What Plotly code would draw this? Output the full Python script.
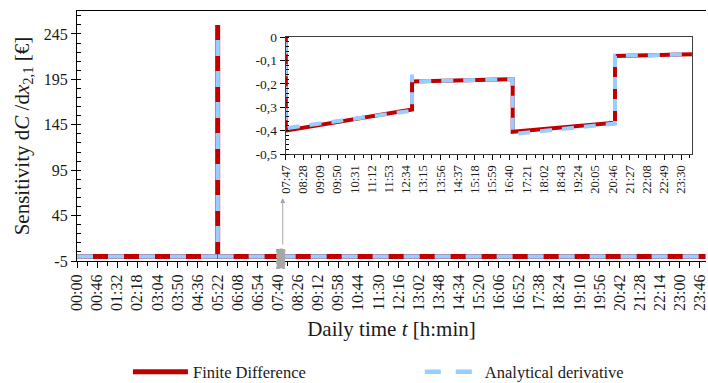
import plotly.graph_objects as go

# ---- data (time in minutes of the day) ----
fd_time = [0, 322, 322, None, 322, 467, 467, 768, 768, 1008, 1008, 1252, 1252, 1439]
fd_value = [0, 0, 255, None, 0, 0, -0.40, -0.31, -0.19, -0.18, -0.405, -0.366, -0.081, -0.074]

an_time = [0, 322, 322, None, 322, 467, 467, 768, 768, 768, 1008, 1008, 1252, 1252, 1439]
an_value = [0, 0, 255, None, 0, 0, -0.39, -0.315, -0.16, -0.19, -0.18, -0.415, -0.37, -0.08, -0.074]

main_tick_labels = ["00:00", "00:46", "01:32", "02:18", "03:04", "03:50", "04:36", "05:22",
                    "06:08", "06:54", "07:40", "08:26", "09:12", "09:58", "10:44", "11:30",
                    "12:16", "13:02", "13:48", "14:34", "15:20", "16:06", "16:52", "17:38",
                    "18:24", "19:10", "19:56", "20:42", "21:28", "22:14", "23:00", "23:46"]
inset_tick_labels = ["07:47", "08:28", "09:09", "09:50", "10:31", "11:12", "11:53", "12:34",
                     "13:15", "13:56", "14:37", "15:18", "15:59", "16:40", "17:21", "18:02",
                     "18:43", "19:24", "20:05", "20:46", "21:27", "22:08", "22:49", "23:30"]
main_y_ticks = [-5, 45, 95, 145, 195, 245]
main_y_labels = ["-5", "45", "95", "145", "195", "245"]
inset_y_ticks = [0, -0.1, -0.2, -0.3, -0.4, -0.5]
inset_y_labels = ["0", "-0,1", "-0,2", "-0,3", "-0,4", "-0,5"]
zoom_start = "07:47"


def to_min(s):
    h, m = s.split(":")
    return int(h) * 60 + int(m)


RED = "#C00000"
BLUE = "#99CCFF"
FONT = "Liberation Serif"
TXT = "#1a1a1a"

fig = go.Figure()
# main
fig.add_trace(go.Scatter(x=fd_time, y=fd_value, mode="lines", name="Finite Difference",
                         line=dict(color=RED, width=5), xaxis="x", yaxis="y", legend="legend"))
fig.add_trace(go.Scatter(x=an_time, y=an_value, mode="lines", name="Analytical derivative",
                         line=dict(color=BLUE, width=4.5, dash="16px,15px"), xaxis="x", yaxis="y",
                         legend="legend2"))
# inset
fig.add_trace(go.Scatter(x=fd_time, y=fd_value, mode="lines", showlegend=False,
                         line=dict(color=RED, width=4), xaxis="x2", yaxis="y2"))
fig.add_trace(go.Scatter(x=an_time, y=an_value, mode="lines", showlegend=False,
                         line=dict(color=BLUE, width=4, dash="12px,10px"), xaxis="x2", yaxis="y2"))

zs = to_min(zoom_start)

legend_common = dict(orientation="h", xanchor="left", yref="container", y=1 - 372 / 383,
                     yanchor="middle", font=dict(size=16.5), itemwidth=55,
                     bgcolor="rgba(0,0,0,0)", tracegroupgap=0)

fig.update_layout(
    width=708, height=383,
    margin=dict(l=77, r=2, t=11, b=122),
    paper_bgcolor="white", plot_bgcolor="white",
    font=dict(family=FONT, color=TXT, size=15),
    xaxis=dict(range=[0, 1440], tickvals=[to_min(s) for s in main_tick_labels],
               ticktext=main_tick_labels, tickangle=-90, ticks="outside", ticklen=6,
               tickcolor="black", showline=True, linecolor="black", linewidth=1.3,
               mirror=True, showgrid=False, zeroline=False, automargin=False,
               tickfont=dict(size=16), ticklabeloverflow="allow",
               minor=dict(ticks="outside", dtick=23, tick0=0, ticklen=4, tickcolor="black"),
               title=dict(text="Daily time <i>t</i> [h:min]", font=dict(size=21), standoff=11)),
    yaxis=dict(range=[-5, 270.3], tickvals=main_y_ticks, ticktext=main_y_labels,
               ticks="outside", ticklen=5, automargin=False,
               tickcolor="black", showline=True, linecolor="black", linewidth=1.3,
               showgrid=False, zeroline=False, tickfont=dict(size=16),
               minor=dict(ticks="inside", dtick=10, tick0=-5, ticklen=4, tickcolor="black"),
               title=dict(text="Sensitivity d<i>C</i> /d<i>x</i><sub>2,1</sub> [€]",
                          font=dict(size=21), standoff=8)),
    xaxis2=dict(domain=[0.332, 0.978], anchor="y2", range=[zs, 1436],
                tickvals=[to_min(s) for s in inset_tick_labels], ticktext=inset_tick_labels,
                tickangle=-90, ticks="outside", ticklen=5, tickcolor="black",
                showline=True, linecolor="#404040", linewidth=1.3, mirror=True,
                showgrid=False, zeroline=False, tickfont=dict(size=12.5), automargin=False,
                minor=dict(ticks="outside", dtick=20.5, tick0=zs, ticklen=3, tickcolor="black")),
    yaxis2=dict(domain=[0.428, 0.896], anchor="x2", range=[-0.5, 0],
                tickvals=inset_y_ticks, ticktext=inset_y_labels, ticks="outside", ticklen=5,
                tickcolor="black", showline=True, linecolor="#404040", linewidth=1.3,
                mirror=True, showgrid=False, zeroline=False, tickfont=dict(size=13.5),
                automargin=False,
                minor=dict(ticks="inside", dtick=0.02, tick0=0, ticklen=3, tickcolor="black")),
    legend=dict(x=0.081, **legend_common),
    legend2=dict(x=0.545, **legend_common),
    shapes=[dict(type="rect", xref="x", yref="paper", x0=zs - 10, x1=zs + 9,
                 y0=-0.03, y1=0.048, fillcolor="#A6A6A6",
                 line=dict(color="#A6A6A6", width=1, dash="dot"))],
    annotations=[dict(x=zs + 4, y=0.252, xref="x", yref="paper", ax=0, ay=48,
                      axref="pixel", ayref="pixel", showarrow=True, arrowhead=2,
                      arrowsize=1, arrowwidth=1, arrowcolor="#A6A6A6", text="")],
)

fig.write_html("out.html")
